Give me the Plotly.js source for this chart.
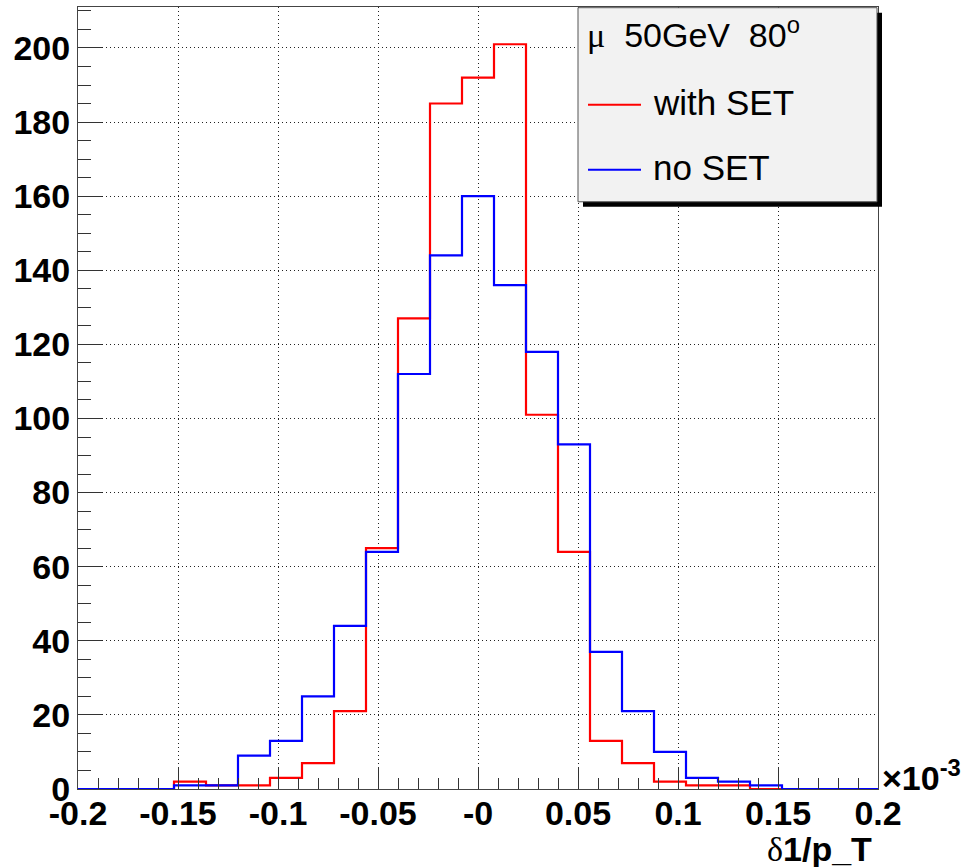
<!DOCTYPE html>
<html>
<head>
<meta charset="utf-8">
<script src="https://cdn.plot.ly/plotly-3.0.1.min.js"></script>
<style>html,body{margin:0;padding:0;background:#fff;}#chart{width:964px;height:867px;}</style>
</head>
<body>
<div id="chart"></div>
<script>
// Bin centers (units of 10^-3), bin width 0.016
var binCenters = [-0.192,-0.176,-0.160,-0.144,-0.128,-0.112,-0.096,-0.080,-0.064,-0.048,-0.032,-0.016,0.000,
                  0.016,0.032,0.048,0.064,0.080,0.096,0.112,0.128,0.144,0.160,0.176,0.192];
var binWidth = 0.016;
var withSET = [0,0,0,2,1,1,3,7,21,65,127,185,192,201,101,64,13,7,2,1,1,0,0,0,0];
var noSET   = [0,0,0,1,1,9,13,25,44,64,112,144,160,136,118,93,37,21,10,3,2,1,0,0,0];
var xTickVals = [-0.2,-0.15,-0.1,-0.05,0,0.05,0.1,0.15,0.2];
var xTickText = ["-0.2","-0.15","-0.1","-0.05","-0","0.05","0.1","0.15","0.2"];
var yTickVals = [0,20,40,60,80,100,120,140,160,180,200];
var legendTitle = "<span style='font-family:Liberation Serif,Times New Roman,serif'>\u03bc</span>  50GeV  80<sup>o</sup>";
var seriesNames = ["with SET","no SET"];
var xTitle = "<span style='font-family:Liberation Serif,Times New Roman,serif;font-weight:normal'>\u03b4</span>1/p_T";
var expLabel = "\u00d710<sup>-3</sup>";

function stepXY(vals){
  var xs=[], ys=[];
  for (var i=0;i<binCenters.length;i++){ xs.push(binCenters[i]-binWidth/2); ys.push(vals[i]); }
  xs.push(binCenters[binCenters.length-1]+binWidth/2); ys.push(vals[vals.length-1]);
  return {x:xs,y:ys};
}
var r = stepXY(withSET), b = stepXY(noSET);
var traces = [
  {x:r.x,y:r.y,type:'scatter',mode:'lines',line:{shape:'hv',color:'#ff0000',width:2.2},name:seriesNames[0]},
  {x:b.x,y:b.y,type:'scatter',mode:'lines',line:{shape:'hv',color:'#0000ff',width:2.2},name:seriesNames[1]}
];

// pixel -> paper helpers (plot area: x 78..878, y 7..789)
var L=78,R=878,T=7.3,B=789;
function px(x){return (x-L)/(R-L);}
function py(y){return (B-y)/(B-T);}

var fontFam = 'Liberation Sans, Arial, sans-serif';
var layout = {
  width:964,height:867,
  margin:{l:L,r:964-R,t:T,b:867-B,pad:0},
  paper_bgcolor:'#ffffff',plot_bgcolor:'#ffffff',
  showlegend:false,
  font:{family:fontFam,color:'#000'},
  xaxis:{range:[-0.2,0.2],tickmode:'array',tickvals:xTickVals,ticktext:xTickText,
    tickfont:{family:fontFam,size:34,weight:'bold',color:'#000'},
    ticks:'inside',ticklen:22,tickwidth:1,tickcolor:'#333',ticklabelstandoff:-6,
    showline:true,linecolor:'#444',linewidth:1,mirror:true,
    showgrid:true,gridcolor:'#222',griddash:'1px,3px',gridwidth:1,zeroline:false,
    minor:{dtick:0.01,tick0:0,ticks:'inside',ticklen:11,tickcolor:'#333',showgrid:false},
    fixedrange:true},
  yaxis:{range:[0,211.05],tickmode:'array',tickvals:yTickVals,
    tickfont:{family:fontFam,size:34,weight:'bold',color:'#000'},
    ticks:'inside',ticklen:24,tickwidth:1,tickcolor:'#333',
    showline:true,linecolor:'#444',linewidth:1,mirror:true,
    showgrid:true,gridcolor:'#222',griddash:'1px,3px',gridwidth:1,zeroline:false,
    minor:{dtick:5,tick0:0,ticks:'inside',ticklen:13,tickcolor:'#333',showgrid:false},
    fixedrange:true},
  shapes:[
    {type:'rect',xref:'paper',yref:'paper',x0:px(583),x1:px(882),y0:py(13),y1:py(207),fillcolor:'#000',line:{width:0},layer:'above'},
    {type:'rect',xref:'paper',yref:'paper',x0:px(578),x1:px(877),y0:py(8),y1:py(202),fillcolor:'#f2f2f2',line:{color:'#555',width:1},layer:'above'},
    {type:'line',xref:'paper',yref:'paper',x0:px(588),x1:px(641),y0:py(105),y1:py(105),line:{color:'#ff0000',width:2},layer:'above'},
    {type:'line',xref:'paper',yref:'paper',x0:px(588),x1:px(641),y0:py(170),y1:py(170),line:{color:'#0000ff',width:2},layer:'above'}
  ],
  annotations:[
    {xref:'paper',yref:'paper',x:px(585),y:py(33),xanchor:'left',yanchor:'middle',showarrow:false,
      text:legendTitle,font:{family:fontFam,size:34,color:'#000'}},
    {xref:'paper',yref:'paper',x:px(651),y:py(103),xanchor:'left',yanchor:'middle',showarrow:false,
      text:seriesNames[0],font:{family:fontFam,size:35,color:'#000'}},
    {xref:'paper',yref:'paper',x:px(651),y:py(168),xanchor:'left',yanchor:'middle',showarrow:false,
      text:seriesNames[1],font:{family:fontFam,size:35,color:'#000'}},
    {xref:'paper',yref:'paper',x:px(874),y:py(849),xanchor:'right',yanchor:'middle',showarrow:false,
      text:xTitle,font:{family:fontFam,size:34,weight:'bold',color:'#000'}},
    {xref:'paper',yref:'paper',x:px(880),y:py(776),xanchor:'left',yanchor:'middle',showarrow:false,
      text:expLabel,font:{family:fontFam,size:34,weight:'bold',color:'#000'}}
  ]
};
Plotly.newPlot('chart',traces,layout,{staticPlot:true,displayModeBar:false});
</script>
</body>
</html>
